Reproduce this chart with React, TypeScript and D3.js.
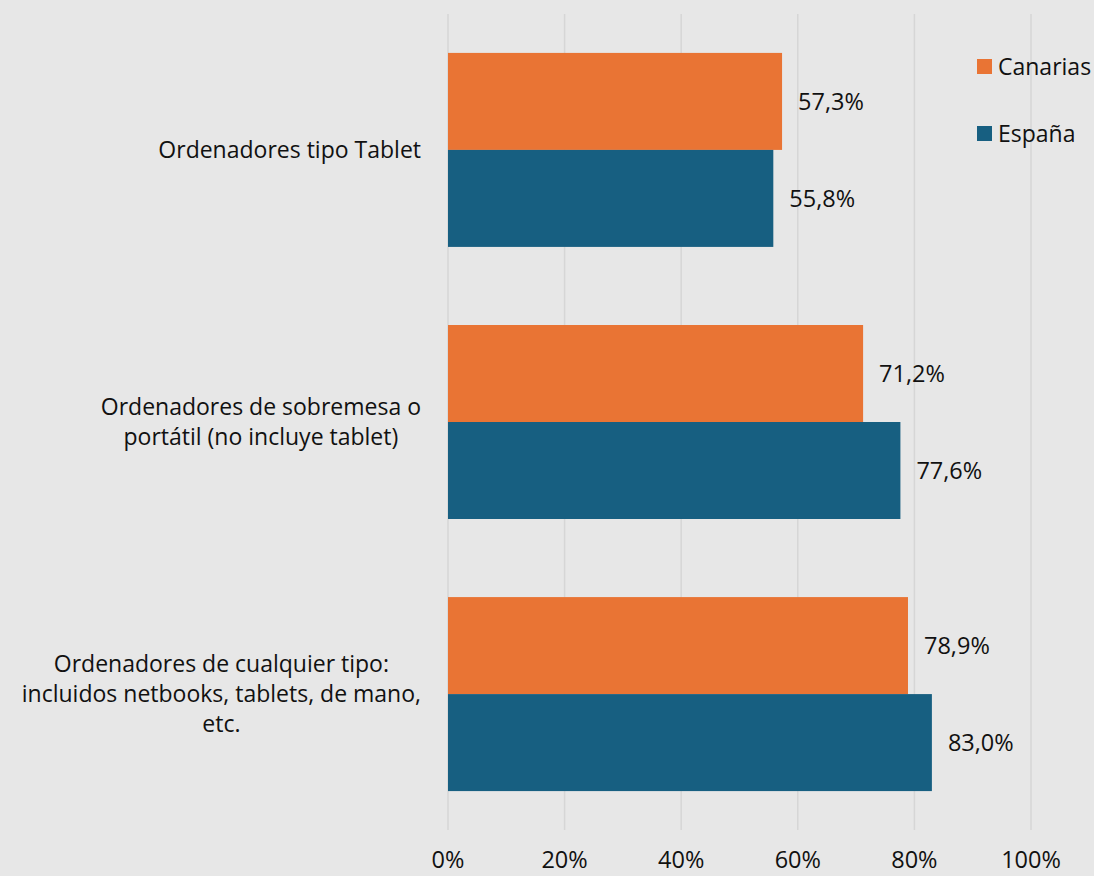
import React, { useEffect, useRef } from 'react';
import * as d3 from 'd3';

// categories from top to bottom, each one may have several lines
const categories: string[][] = [
    ['Ordenadores tipo Tablet'],
    ['Ordenadores de sobremesa o', 'portátil (no incluye tablet)'],
    ['Ordenadores de cualquier tipo:', 'incluidos netbooks, tablets, de mano,', 'etc.'],
];
const seriesNames = ['Canarias', 'España'];
const canarias = [57.3, 71.2, 78.9];
const espana = [55.8, 77.6, 83.0];
const xTicks = [0, 20, 40, 60, 80, 100];

const colors = ['#E97434', '#175F81'];
const font = '"Open Sans", sans-serif';
const fs = 23.5;
const catFs = 23;

const App: React.FC = () => {
    const svgRef = useRef<SVGSVGElement>(null);

    useEffect(() => {
        if (!svgRef.current) return;
        const svg = d3.select(svgRef.current);
        svg.selectAll('*').remove();

        const width = 1094;
        const height = 876;
        const left = 448, right = 1031, top = 14, bottom = 830;

        svg.append('rect').attr('width', width).attr('height', height).attr('fill', '#E7E7E7');

        const x = d3.scaleLinear().domain([0, 100]).range([left, right]);
        const y = d3.scaleBand<number>()
            .domain(d3.range(categories.length))
            .range([top, bottom])
            .paddingInner(0.287)
            .paddingOuter(0.143);
        const ySub = d3.scaleBand<number>().domain([0, 1]).range([0, y.bandwidth()]);

        // gridlines
        svg.append('g').selectAll('line').data(xTicks).join('line')
            .attr('x1', d => x(d)).attr('x2', d => x(d))
            .attr('y1', top).attr('y2', bottom)
            .attr('stroke', '#D6D6D6').attr('stroke-width', 1.5);

        // tick labels
        svg.append('g').selectAll('text').data(xTicks).join('text')
            .attr('x', d => x(d)).attr('y', 860)
            .attr('dy', '0.35em')
            .attr('text-anchor', 'middle')
            .attr('font-family', font).attr('font-size', fs).attr('fill', '#111')
            .text(d => `${d}%`);

        const series = [canarias, espana];
        series.forEach((vals, si) => {
            const g = svg.append('g');
            g.selectAll('rect').data(vals).join('rect')
                .attr('x', x(0))
                .attr('y', (_, i) => (y(i) ?? 0) + (ySub(si) ?? 0))
                .attr('width', d => x(d) - x(0))
                .attr('height', ySub.bandwidth())
                .attr('fill', colors[si]);
            g.selectAll('text').data(vals).join('text')
                .attr('x', d => x(d) + 16)
                .attr('y', (_, i) => (y(i) ?? 0) + (ySub(si) ?? 0) + ySub.bandwidth() / 2)
                .attr('dy', '0.35em')
                .attr('font-family', font).attr('font-size', fs).attr('fill', '#111')
                .text(d => d.toFixed(1).replace('.', ',') + '%');
        });

        // category labels, centred block whose right edge sits at 421
        categories.forEach((lines, i) => {
            const cy = (y(i) ?? 0) + y.bandwidth() / 2;
            const lh = 30;
            const g = svg.append('g');
            const t = g.append('text')
                .attr('text-anchor', 'middle')
                .attr('font-family', font).attr('font-size', catFs).attr('fill', '#111');
            lines.forEach((l, j) => {
                t.append('tspan').attr('x', 0)
                    .attr('y', cy + (j - (lines.length - 1) / 2) * lh)
                    .attr('dy', '0.35em')
                    .text(l);
            });
            const bb = (t.node() as SVGTextElement).getBBox();
            g.attr('transform', `translate(${421 - (bb.x + bb.width)},0)`);
        });

        // legend
        const legend = svg.append('g');
        seriesNames.forEach((name, i) => {
            const ly = 67 + i * 67;
            legend.append('rect').attr('x', 977).attr('y', ly - 8).attr('width', 15).attr('height', 15)
                .attr('fill', colors[i]);
            legend.append('text').attr('x', 998).attr('y', ly).attr('dy', '0.35em')
                .attr('font-family', font).attr('font-size', catFs).attr('fill', '#111')
                .text(name);
        });
    }, []);

    return (
        <svg ref={svgRef} width={1094} height={876}
            style={{ position: 'absolute', left: 0, top: 0, display: 'block' }}></svg>
    );
};

export default App;
